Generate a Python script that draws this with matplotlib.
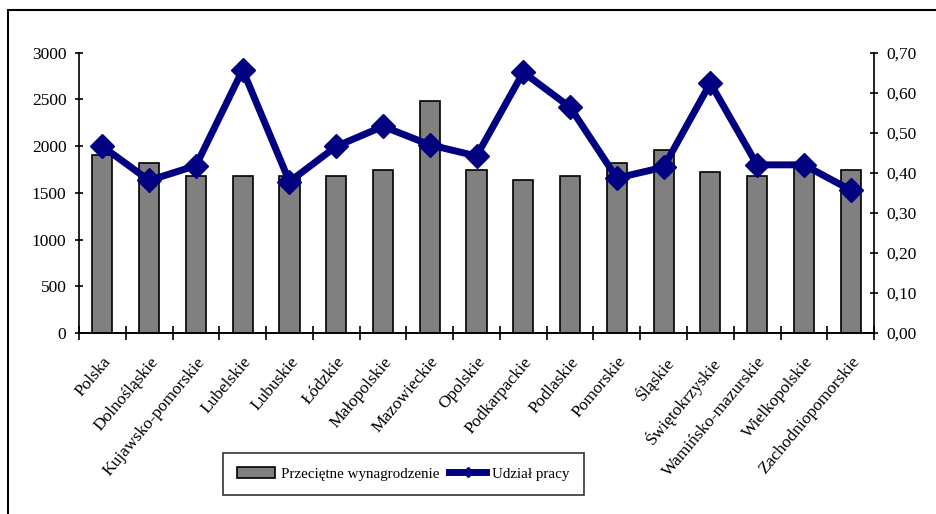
import numpy as np
import matplotlib.pyplot as plt
from matplotlib.patches import Rectangle
from matplotlib.ticker import FuncFormatter, FixedLocator

regions = ["Polska", "Dolnośląskie", "Kujawsko-pomorskie", "Lubelskie", "Lubuskie",
           "Łódzkie", "Małopolskie", "Mazowieckie", "Opolskie", "Podkarpackie",
           "Podlaskie", "Pomorskie", "Śląskie", "Świętokrzyskie", "Wamińsko-mazurskie",
           "Wielkopolskie", "Zachodniopomorskie"]
wages = [1910, 1825, 1680, 1680, 1680, 1680, 1745, 2480, 1745, 1640,
         1680, 1825, 1960, 1720, 1680, 1800, 1740]
labour_share = [0.466, 0.381, 0.418, 0.657, 0.378, 0.466, 0.516, 0.470, 0.442, 0.651,
                0.564, 0.387, 0.414, 0.624, 0.420, 0.420, 0.357]

plt.rcParams['font.family'] = ['Liberation Serif', 'DejaVu Serif']
plt.rcParams['font.size'] = 12.5

fig = plt.figure(figsize=(9.36, 5.14), dpi=100)
ax = fig.add_axes([0.0844, 0.352, 0.8494, 0.5455])
ax2 = ax.twinx()

x = np.arange(len(regions))
bars = ax.bar(x, wages, width=0.43, color="#808080", edgecolor="black", linewidth=1.2,
              label="Przeciętne wynagrodzenie", zorder=2)
line, = ax2.plot(x, labour_share, color="#000080", linewidth=5, marker="D", markersize=12,
                 label="Udział pracy", zorder=3)

ax.set_xlim(-0.5, len(regions) - 0.5)
ax.set_ylim(0, 3000)
ax.set_yticks(range(0, 3001, 500))
ax2.set_ylim(0, 0.7)
ax2.set_yticks(np.arange(0, 0.71, 0.1))
ax2.yaxis.set_major_formatter(FuncFormatter(lambda v, p: f"{v:.2f}".replace(".", ",")))

ax.set_xticks(x)
ax.set_xticklabels(regions, rotation=50, ha="right", rotation_mode="anchor")
ax.xaxis.set_minor_locator(FixedLocator(np.arange(-0.5, len(regions), 1.0)))
ax.tick_params(axis="x", which="major", length=0, pad=15)
ax.tick_params(axis="x", which="minor", direction="inout", length=10, width=1.2)
ax.tick_params(axis="y", direction="inout", length=6, width=1.2, pad=6)
ax2.tick_params(axis="y", direction="inout", length=6, width=1.2, pad=6)

for a in (ax, ax2):
    a.spines["top"].set_visible(False)
    for s in a.spines.values():
        s.set_linewidth(1.2)
ax.spines["right"].set_visible(False)
ax2.spines["left"].set_visible(False)

ax.set_zorder(ax2.get_zorder() - 1)
ax2.patch.set_visible(False)

leg = fig.legend(handles=[bars, line], loc="lower left", ncol=2, bbox_to_anchor=(0.238, 0.037),
                 frameon=True, fancybox=False, edgecolor="black", fontsize=10.8,
                 handlelength=2.5, columnspacing=0.65, handletextpad=0.4, borderpad=0.95,
                 borderaxespad=0, markerscale=0.4)
leg.get_frame().set_linewidth(1.2)

fig.patches.append(Rectangle((8 / 936, -0.1), 1.2, 1 - 10 / 514 + 0.1, transform=fig.transFigure,
                             fill=False, edgecolor="black", linewidth=1.5))

fig.savefig("out.png", dpi=100)
